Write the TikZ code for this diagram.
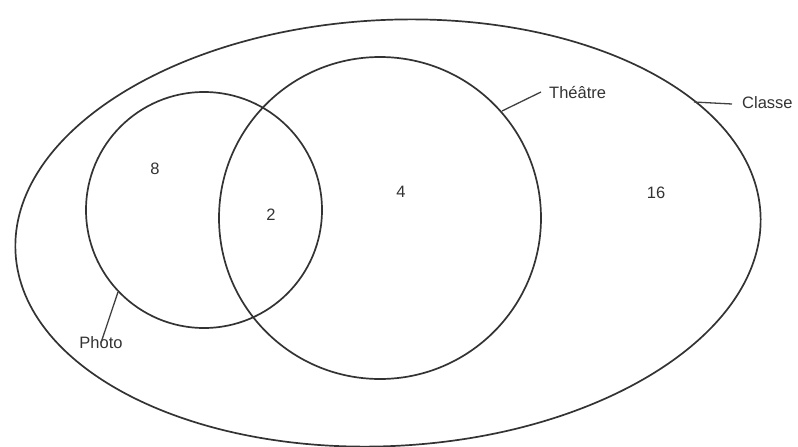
\documentclass[tikz,border=0pt]{standalone}
\usepackage{fontspec}
\setmainfont{Liberation Sans}
\begin{document}
\begin{tikzpicture}[x=1pt,y=-1pt,
  shape line/.style={draw=black!80, line width=1.7pt},
  lead/.style={draw=black!75, line width=1.3pt},
  lbl/.style={font=\fontsize{16.5}{18}\selectfont, text=black!80, inner sep=0pt}]
\useasboundingbox (0,0) rectangle (798,447);
\draw[shape line, rotate around={3:(388,233)}] (388,233) ellipse [x radius=373, y radius=213];
\draw[shape line] (204,210) circle [radius=118];
\draw[shape line] (380,218) circle [radius=161];
\node[lbl] (n8) at (155,169) {8};
\node[lbl] (n2) at (271,215) {2};
\node[lbl] (n4) at (401,192) {4};
\node[lbl] (n16) at (656,193) {16};
\node[lbl, anchor=west] (theatre) at (549,93) {Théâtre};
\node[lbl, anchor=west] (classe) at (742,103) {Classe};
\node[lbl] (photo) at (101,343) {Photo};
\coordinate (tp) at (502,111);
\coordinate (cp) at (694,102);
\coordinate (pp) at (118,292);
\draw[lead] (tp) -- ([xshift=-8pt,yshift=1pt]theatre.west);
\draw[lead] (cp) -- ([xshift=-10pt,yshift=-1pt]classe.west);
\draw[lead] (pp) -- ([yshift=-6pt]photo.north);
\end{tikzpicture}
\end{document}
